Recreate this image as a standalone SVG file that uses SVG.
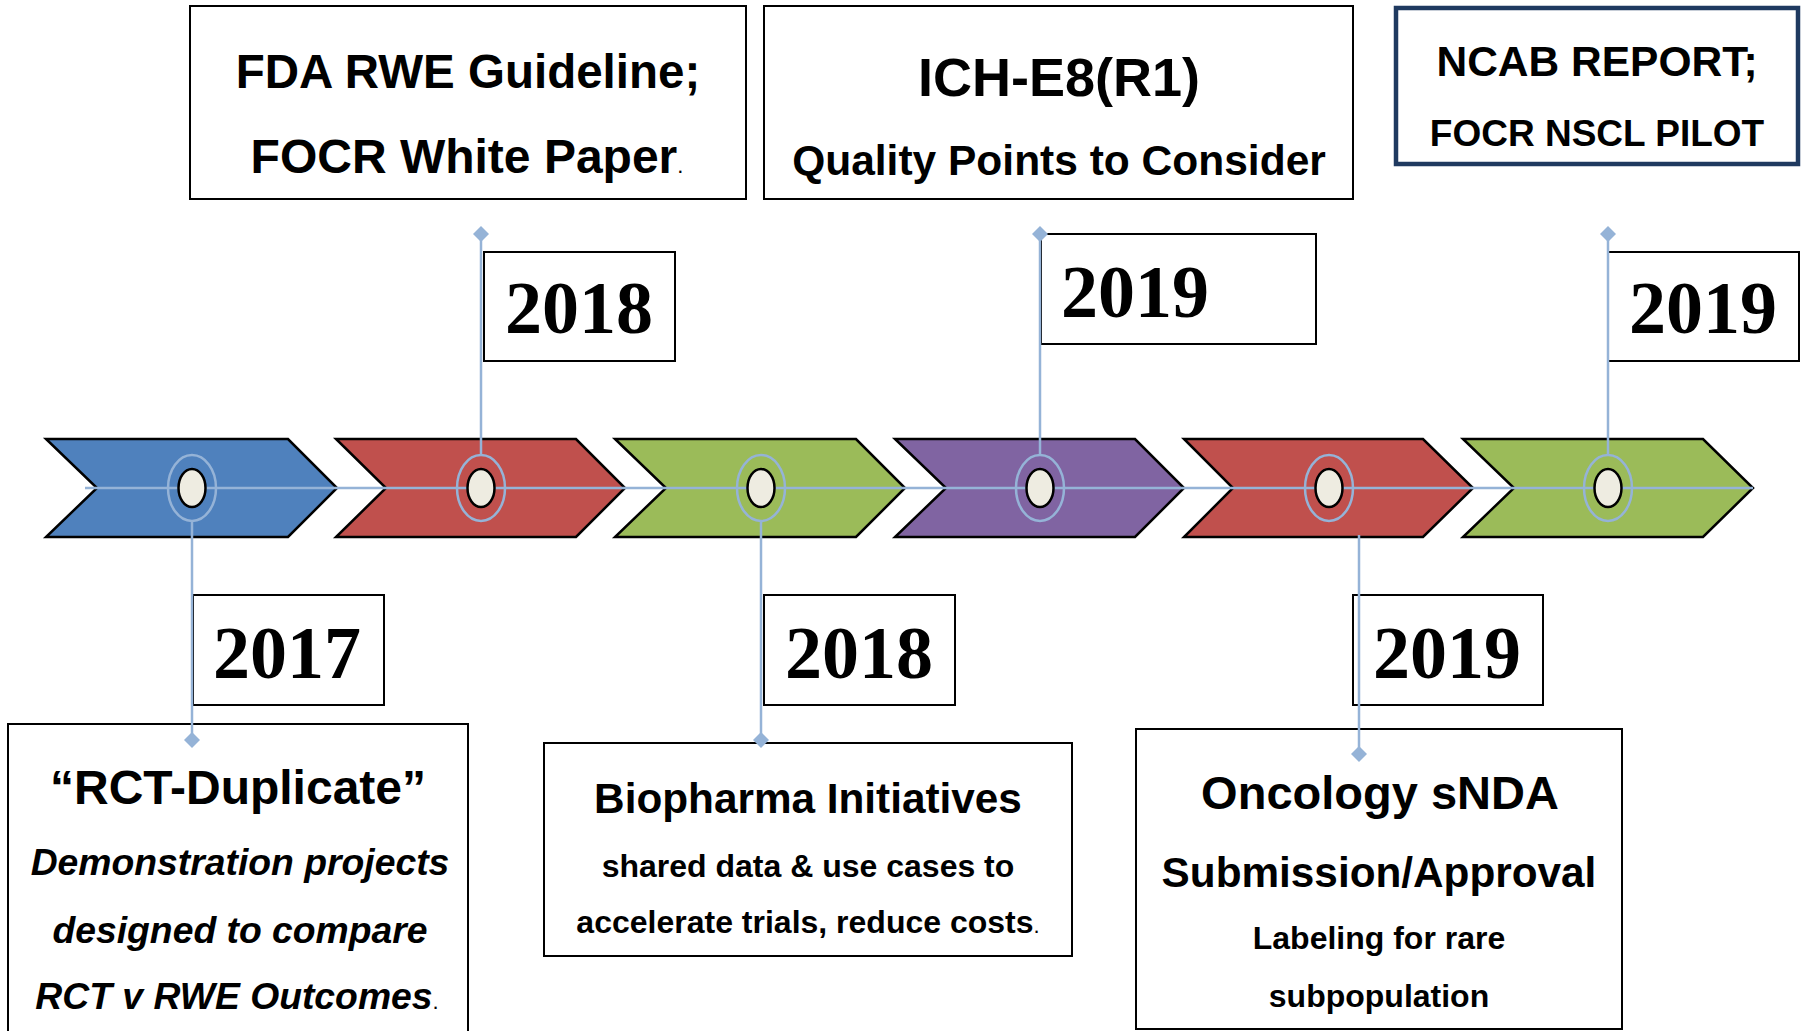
<svg xmlns="http://www.w3.org/2000/svg" width="1802" height="1031" viewBox="0 0 1802 1031">
  <style>
    .chev { stroke: #000; stroke-width: 2.5; stroke-linejoin: miter; }
    .blue { fill: #4F81BD; }
    .red { fill: #C0504D; }
    .green { fill: #9BBB59; }
    .purple { fill: #8064A2; }
    .box { fill: #fff; stroke: #000; stroke-width: 2; }
    .navy { fill: #fff; stroke: #1F3A60; stroke-width: 4.5; }
    .link { stroke: #95B3D7; stroke-width: 2.5; fill: none; }
    .dot { fill: #95B3D7; }
    .ring { fill: none; stroke: #95B3D7; stroke-width: 2.5; }
    .core { fill: #EEECE1; stroke: #000; stroke-width: 2.5; }
    .sans { font-family: "Liberation Sans", Arial, sans-serif; font-weight: bold; fill: #000; }
    .year { font-family: "Liberation Serif", "Times New Roman", serif; font-weight: bold; font-size: 74px; fill: #000; }
    .mid { text-anchor: middle; }
    .dotp { font-weight: normal; font-size: 22px; font-style: normal; }
  </style>

  <!-- chevron band -->
  <g id="chevron-1"><polygon class="chev blue" points="46,439 288,439 337,488 288,537 46,537 97,488"/></g>
  <g id="chevron-2"><polygon class="chev red" points="336,439 576,439 625,488 576,537 336,537 386,488"/></g>
  <g id="chevron-3"><polygon class="chev green" points="615,439 856,439 905,488 856,537 615,537 666,488"/></g>
  <g id="chevron-4"><polygon class="chev purple" points="895,439 1135,439 1184,488 1135,537 895,537 946,488"/></g>
  <g id="chevron-5"><polygon class="chev red" points="1184,439 1423,439 1473,488 1423,537 1184,537 1233,488"/></g>
  <g id="chevron-6"><polygon class="chev green" points="1463,439 1703,439 1753,488 1703,537 1463,537 1514,488"/></g>

  <!-- event boxes above the band -->
  <g id="fda-box">
    <rect class="box" x="190" y="6" width="556" height="193"/>
    <text class="sans mid" x="468" y="88" font-size="47.5">FDA RWE Guideline;</text>
    <text class="sans mid" x="467" y="173" font-size="48">FOCR White Paper<tspan class="dotp">.</tspan></text>
  </g>
  <g id="ich-box">
    <rect class="box" x="764" y="6" width="589" height="193"/>
    <text class="sans mid" x="1059" y="96" font-size="54">ICH-E8(R1)</text>
    <text class="sans mid" x="1059" y="175" font-size="42.5">Quality Points to Consider</text>
  </g>
  <g id="ncab-box">
    <rect class="navy" x="1396" y="8" width="402" height="156"/>
    <text class="sans mid" x="1597" y="76" font-size="42.5">NCAB REPORT;</text>
    <text class="sans mid" x="1597" y="146" font-size="37">FOCR NSCL PILOT</text>
  </g>

  <!-- year labels -->
  <g id="year-2018-top">
    <rect class="box" x="484" y="252" width="191" height="109"/>
    <text class="year mid" x="579" y="333">2018</text>
  </g>
  <g id="year-2019-mid">
    <rect class="box" x="1041" y="234" width="275" height="110"/>
    <text class="year" x="1061" y="317">2019</text>
  </g>
  <g id="year-2019-top">
    <rect class="box" x="1608" y="252" width="191" height="109"/>
    <text class="year mid" x="1703" y="333">2019</text>
  </g>
  <g id="year-2017">
    <rect class="box" x="193" y="595" width="191" height="110"/>
    <text class="year mid" x="287" y="678">2017</text>
  </g>
  <g id="year-2018-bottom">
    <rect class="box" x="764" y="595" width="191" height="110"/>
    <text class="year mid" x="859" y="678">2018</text>
  </g>
  <g id="year-2019-bottom">
    <rect class="box" x="1353" y="595" width="190" height="110"/>
    <text class="year mid" x="1447" y="678">2019</text>
  </g>

  <!-- event boxes below the band -->
  <g id="rct-box">
    <rect class="box" x="8" y="724" width="460" height="330"/>
    <text class="sans mid" x="238" y="804" font-size="48">“RCT-Duplicate”</text>
    <text class="sans mid" x="240" y="875" font-size="37.3" font-style="italic">Demonstration projects</text>
    <text class="sans mid" x="240" y="943" font-size="37.3" font-style="italic">designed to compare</text>
    <text class="sans mid" x="237" y="1009" font-size="37.3" font-style="italic">RCT v RWE Outcomes<tspan class="dotp">.</tspan></text>
  </g>
  <g id="biopharma-box">
    <rect class="box" x="544" y="743" width="528" height="213"/>
    <text class="sans mid" x="808" y="813" font-size="42.3">Biopharma Initiatives</text>
    <text class="sans mid" x="808" y="877" font-size="32">shared data &amp; use cases to</text>
    <text class="sans mid" x="808" y="933" font-size="32">accelerate trials, reduce costs<tspan class="dotp">.</tspan></text>
  </g>
  <g id="oncology-box">
    <rect class="box" x="1136" y="729" width="486" height="300"/>
    <text class="sans mid" x="1380" y="809" font-size="47">Oncology sNDA</text>
    <text class="sans mid" x="1379" y="887" font-size="42.3">Submission/Approval</text>
    <text class="sans mid" x="1379" y="949" font-size="32">Labeling for rare</text>
    <text class="sans mid" x="1379" y="1007" font-size="32">subpopulation</text>
  </g>

  <!-- connectors: time axis, stems and end diamonds -->
  <g id="connectors">
    <line class="link" x1="85" y1="488" x2="1753" y2="488"/>
    <line class="link" x1="192" y1="521" x2="192" y2="740"/>
    <line class="link" x1="481" y1="234" x2="481" y2="455"/>
    <line class="link" x1="761" y1="521" x2="761" y2="740"/>
    <line class="link" x1="1040" y1="234" x2="1040" y2="455"/>
    <line class="link" x1="1359" y1="535" x2="1359" y2="754"/>
    <line class="link" x1="1608" y1="234" x2="1608" y2="455"/>
    <polygon class="dot" points="192,732 200,740 192,748 184,740"/>
    <polygon class="dot" points="481,226 489,234 481,242 473,234"/>
    <polygon class="dot" points="761,732 769,740 761,748 753,740"/>
    <polygon class="dot" points="1040,226 1048,234 1040,242 1032,234"/>
    <polygon class="dot" points="1359,746 1367,754 1359,762 1351,754"/>
    <polygon class="dot" points="1608,226 1616,234 1608,242 1600,234"/>
  </g>

  <!-- milestone markers on the band -->
  <g id="marker-1"><ellipse class="ring" cx="192" cy="488" rx="24" ry="33"/><ellipse class="core" cx="192" cy="488" rx="13.5" ry="19"/></g>
  <g id="marker-2"><ellipse class="ring" cx="481" cy="488" rx="24" ry="33"/><ellipse class="core" cx="481" cy="488" rx="13.5" ry="19"/></g>
  <g id="marker-3"><ellipse class="ring" cx="761" cy="488" rx="24" ry="33"/><ellipse class="core" cx="761" cy="488" rx="13.5" ry="19"/></g>
  <g id="marker-4"><ellipse class="ring" cx="1040" cy="488" rx="24" ry="33"/><ellipse class="core" cx="1040" cy="488" rx="13.5" ry="19"/></g>
  <g id="marker-5"><ellipse class="ring" cx="1329" cy="488" rx="24" ry="33"/><ellipse class="core" cx="1329" cy="488" rx="13.5" ry="19"/></g>
  <g id="marker-6"><ellipse class="ring" cx="1608" cy="488" rx="24" ry="33"/><ellipse class="core" cx="1608" cy="488" rx="13.5" ry="19"/></g>
</svg>
